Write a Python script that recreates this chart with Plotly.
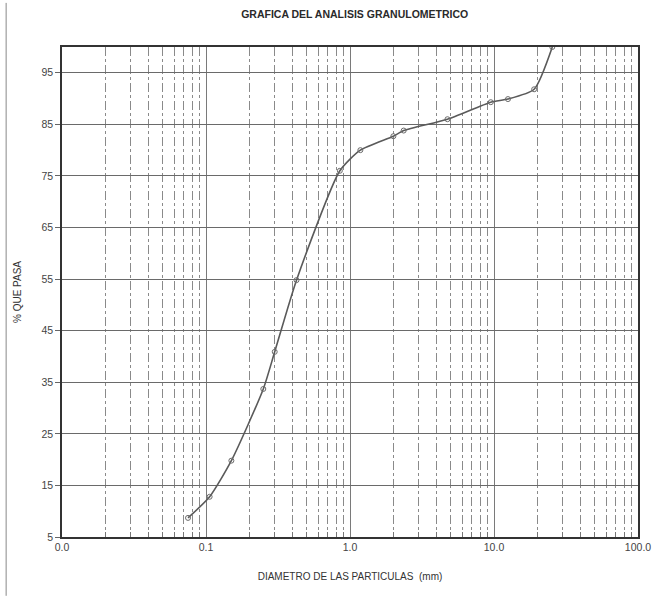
import plotly.graph_objects as go

# Sieve openings (mm) and percent passing
diametro_mm = [25.4, 19.0, 12.5, 9.5, 4.75, 2.36, 2.0, 1.18, 0.85, 0.425, 0.30, 0.25, 0.15, 0.106, 0.075]
pct_pasa = [100.0, 91.8, 89.9, 89.3, 86.0, 83.8, 82.7, 80.0, 76.0, 54.8, 40.9, 33.7, 19.8, 12.8, 8.7]

x_tickvals = [0.01, 0.1, 1, 10, 100]
x_ticktext = ["0.0", "0.1", "1.0", "10.0", "100.0"]
y_tickvals = [5, 15, 25, 35, 45, 55, 65, 75, 85, 95]

minor_vals = [m * d for d in [0.01, 0.1, 1, 10] for m in range(2, 10)]

font_fam = "Liberation Sans, Arial, sans-serif"

fig = go.Figure()
fig.add_trace(go.Scatter(
    x=diametro_mm, y=pct_pasa,
    mode="lines+markers",
    line=dict(color="#5a5a5a", width=1.6, shape="spline", smoothing=0.6),
    marker=dict(symbol="circle-open", size=5, color="#6a6a6a", line=dict(width=1)),
    cliponaxis=True,
    showlegend=False,
))

fig.update_layout(
    width=663, height=602,
    margin=dict(l=62, r=16, t=47, b=65),
    paper_bgcolor="white", plot_bgcolor="white",
    font=dict(family=font_fam, color="#3a3a3a", size=10),
    title=dict(text="<b>GRAFICA DEL ANALISIS GRANULOMETRICO</b>",
               x=0.535, xanchor="center", y=0.977, yanchor="middle",
               font=dict(size=10.5, color="#2a2a2a", family=font_fam)),
    xaxis=dict(
        type="log", range=[-2, 2],
        tickmode="array", tickvals=x_tickvals, ticktext=x_ticktext,
        showgrid=True, gridcolor="#7a7a7a", gridwidth=1,
        showline=True, linecolor="#333", linewidth=1.5, mirror=True,
        ticks="", tickfont=dict(size=10.5, color="#444"),
        minor=dict(tickmode="array", tickvals=minor_vals, showgrid=True,
                   gridcolor="#8a8a8a", griddash="dashdot", gridwidth=1,
                   ticks="inside", ticklen=5, tickcolor="#777"),
        title=dict(text="DIAMETRO DE LAS PARTICULAS  (mm)", standoff=21,
                   font=dict(size=10, color="#333")),
        zeroline=False,
    ),
    yaxis=dict(
        range=[5, 100], tickmode="array", tickvals=y_tickvals,
        showgrid=True, gridcolor="#6a6a6a", gridwidth=1.2,
        showline=True, linecolor="#333", linewidth=1.5, mirror=True,
        ticks="outside", ticklen=5, tickcolor="#666",
        tickfont=dict(size=10.5, color="#444"),
        title=dict(text="% QUE PASA", standoff=18, font=dict(size=10, color="#333")),
        zeroline=False,
    ),
)

# page border line seen at left of the scan
fig.add_shape(type="line", xref="paper", yref="paper", x0=-0.097, x1=-0.097, y0=-0.12, y1=1.09,
              line=dict(color="#888", width=1))

fig.write_html("out.html")
